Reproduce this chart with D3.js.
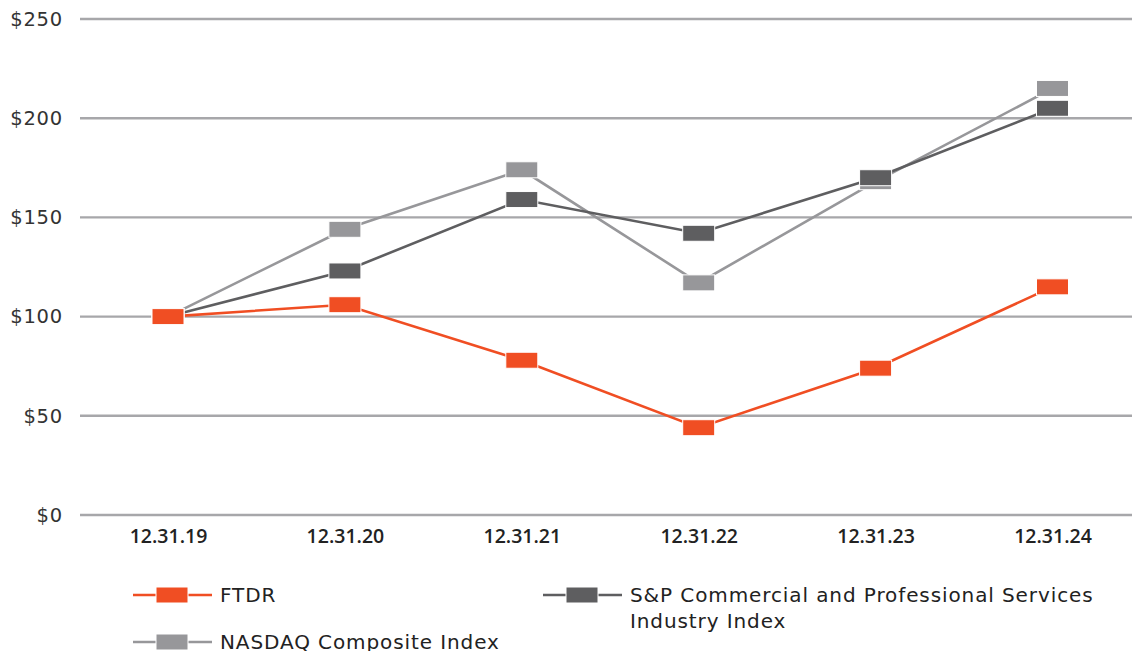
<!DOCTYPE html>
<html><head><meta charset="utf-8">
<script src="https://cdn.jsdelivr.net/npm/d3@7"></script>
<style>body{margin:0;background:#fff;}svg{display:block;}svg text{font-family:"DejaVu Sans",sans-serif;}</style>
</head><body><svg id="c" width="1132" height="651"></svg>
<script>
const categories = ["12.31.19","12.31.20","12.31.21","12.31.22","12.31.23","12.31.24"];
const ftdr = [100,106,78,44,74,115];
const spIndex = [100,123,159,142,170,205];
const nasdaq = [100,144,174,117,168,215];
const yTicks = [0,50,100,150,200,250];
const seriesNames = ["FTDR","S&P Commercial and Professional Services Industry Index","NASDAQ Composite Index"];
const colors = ["#f04e23","#5e5e60","#97979a"];

const svg = d3.select("#c");
const x = d3.scalePoint().domain(categories).range([168,1052.5]);
const y = d3.scaleLinear().domain([0,250]).range([515,19]);

const yAxis = d3.axisLeft(y).tickValues(yTicks).tickFormat(d=>"$"+d).tickSize(0).tickPadding(17);
const gy = svg.append("g").attr("transform","translate(80,0)").call(yAxis);
gy.select(".domain").remove();
gy.attr("font-family",null);
gy.selectAll("text").attr("font-size",19.5).attr("letter-spacing",0.8).attr("fill","#333");
svg.append("g").selectAll("line").data(yTicks).join("line")
  .attr("x1",80).attr("x2",1132).attr("y1",d=>y(d)).attr("y2",d=>y(d))
  .attr("stroke","#a7a7aa").attr("stroke-width",2.4);

const xAxis = d3.axisBottom(x).tickSize(0).tickPadding(14);
const gx = svg.append("g").attr("transform","translate(0,515)").call(xAxis);
gx.select(".domain").remove();
gx.attr("font-family",null);
gx.selectAll("text").attr("font-size",19.5).attr("font-weight",600).attr("fill","#222")
  .style("font-family","'Open Sans',sans-serif");

const data = [ftdr, spIndex, nasdaq];
const line = d3.line().x((d,i)=>x(categories[i])).y(d=>y(d));
[2,1,0].forEach(k=>{
  svg.append("path").datum(data[k]).attr("d",line).attr("fill","none")
    .attr("stroke",colors[k]).attr("stroke-width",2.6);
});
[2,1,0].forEach(k=>{
  svg.append("g").selectAll("rect").data(data[k]).join("rect")
    .attr("x",(d,i)=>x(categories[i])-16).attr("y",d=>y(d)-8)
    .attr("width",32).attr("height",16)
    .attr("fill",colors[k]).attr("stroke","#fff").attr("stroke-width",1);
});

const legendItems = [
  {k:0,x:133,y:595,lines:["FTDR"]},
  {k:1,x:543,y:595,lines:["S&P Commercial and Professional Services","Industry Index"]},
  {k:2,x:133,y:642,lines:["NASDAQ Composite Index"]}
];
legendItems.forEach(it=>{
  const g = svg.append("g").attr("transform",`translate(${it.x},${it.y})`);
  g.append("line").attr("x1",0).attr("x2",79).attr("y1",0).attr("y2",0)
    .attr("stroke",colors[it.k]).attr("stroke-width",2.6);
  g.append("rect").attr("x",23).attr("y",-8).attr("width",32).attr("height",16)
    .attr("fill",colors[it.k]).attr("stroke","#fff").attr("stroke-width",1);
  const t = g.append("text").attr("x",87).attr("y",7).attr("font-size",20)
    .attr("letter-spacing",0.9).attr("fill","#222");
  it.lines.forEach((l,i)=>t.append("tspan").attr("x",87).attr("dy",i?26:0).text(l));
});
</script></body></html>
